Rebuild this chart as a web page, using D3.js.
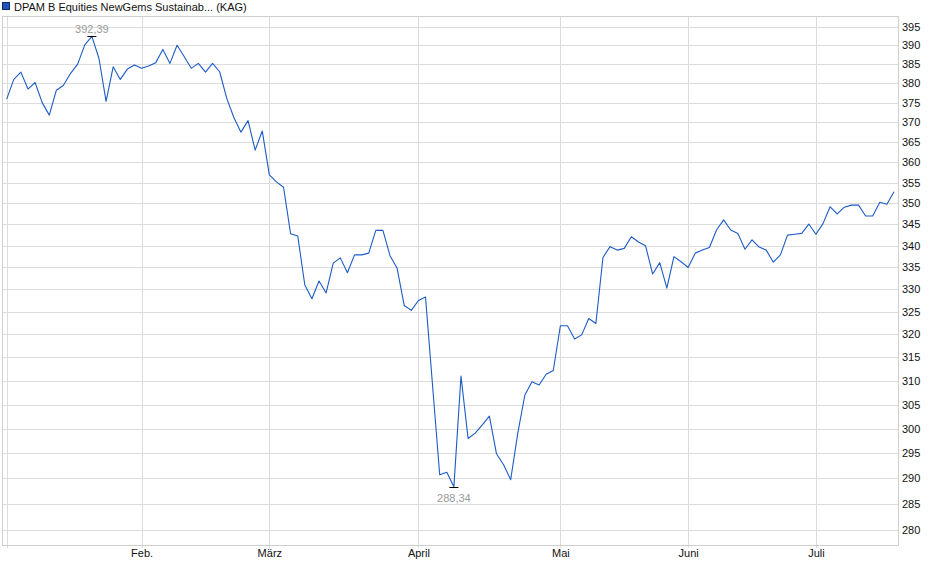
<!DOCTYPE html>
<html>
<head>
<meta charset="utf-8">
<script src="https://cdn.jsdelivr.net/npm/d3@7"></script>
<style>
  body { margin: 0; background: #fff; }
  svg { display: block; font-family: "Liberation Sans", Arial, sans-serif; }
</style>
</head>
<body>
<svg id="chart" width="940" height="579"></svg>
<script>
// Series name shown in the legend
const seriesName = "DPAM B Equities NewGems Sustainab... (KAG)";

// Daily prices, Jan - Jul
const prices = [
  375.9, 381.0, 382.9, 378.5, 380.2, 375.0, 371.8, 378.2, 379.5, 382.6,
  385.0, 390.1, 392.39, 386.5, 375.3, 384.3, 381.0, 383.7, 384.8, 383.9,
  384.5, 385.4, 388.9, 385.2, 390.0, 387.0, 383.9, 385.2, 382.9, 385.2,
  383.0, 376.1, 371.2, 367.5, 370.4, 363.0, 367.8, 356.9, 355.2, 353.9,
  342.8, 342.3, 331.0, 327.9, 331.9, 329.2, 336.0, 337.2, 333.8, 337.9,
  337.9, 338.3, 343.6, 343.6, 337.7, 334.8, 326.4, 325.3, 327.5, 328.3,
  308.9, 290.7, 291.2, 288.34, 311.0, 298.0, 299.1, 300.8, 302.6, 294.9,
  292.7, 289.7, 299.1, 307.0, 309.8, 309.1, 311.4, 312.2, 321.9, 321.9,
  319.0, 319.9, 323.5, 322.4, 337.3, 339.8, 339.0, 339.4, 342.1, 340.9,
  340.0, 333.5, 336.1, 330.3, 337.5, 336.3, 335.0, 338.3, 339.0, 339.6,
  343.7, 346.1, 343.7, 342.9, 339.2, 341.4, 339.7, 339.0, 336.2, 337.9,
  342.5, 342.7, 342.9, 345.1, 342.7, 345.2, 349.2, 347.5, 349.1, 349.6,
  349.6, 347.0, 347.0, 350.3, 349.8, 352.8
];

// Month boundaries: index of first price in each month
const monthStart  = [0, 19, 37, 58, 78, 96, 114];
const monthLabels = ["", "Feb.", "März", "April", "Mai", "Juni", "Juli"];

// Y axis ticks
const yTicks = d3.range(280, 396, 5);

const svg = d3.select("#chart");

const plot = { left: 2.5, right: 898.5, top: 16.5, bottom: 545.5 };

const x = d3.scaleLinear()
    .domain([0, prices.length - 1])
    .range([6.7, 894]);

const y = d3.scaleLog()
    .domain([276.96, 397.76])
    .range([plot.bottom, plot.top]);

// Horizontal grid
svg.append("g")
    .attr("transform", `translate(${plot.right},0)`)
    .call(d3.axisLeft(y).tickValues(yTicks).tickSize(plot.right - plot.left).tickFormat(""))
    .call(g => g.select(".domain").remove())
    .call(g => g.selectAll("line").attr("stroke", "#dcdcdc").attr("shape-rendering", "crispEdges"));

// Vertical month grid
svg.append("g")
    .attr("transform", `translate(0,${plot.bottom + 2})`)
    .call(d3.axisTop(x).tickValues(monthStart).tickSize(plot.bottom - plot.top + 2).tickFormat(""))
    .call(g => g.select(".domain").remove())
    .call(g => g.selectAll("line").attr("stroke", "#dcdcdc").attr("shape-rendering", "crispEdges"));

// Frame
svg.append("rect")
    .attr("x", plot.left)
    .attr("y", plot.top)
    .attr("width", plot.right - plot.left)
    .attr("height", plot.bottom - plot.top)
    .attr("fill", "none")
    .attr("stroke", "#cfcfcf")
    .attr("shape-rendering", "crispEdges");

// Y labels on the right
svg.append("g")
    .attr("transform", `translate(${plot.right},0)`)
    .call(d3.axisRight(y).tickValues(yTicks).tickSize(0).tickPadding(3.5).tickFormat(d3.format("d")))
    .call(g => g.select(".domain").remove())
    .call(g => g.selectAll("text")
        .attr("fill", "#111")
        .style("font-size", "11px")
        .style("font-family", "'Liberation Sans', Arial, sans-serif"));

// Month labels
svg.append("g")
    .attr("transform", `translate(0,${plot.bottom})`)
    .call(d3.axisBottom(x).tickValues(monthStart).tickSize(0).tickPadding(4)
        .tickFormat((d, i) => monthLabels[i]))
    .call(g => g.select(".domain").remove())
    .call(g => g.selectAll("text")
        .attr("fill", "#111")
        .style("font-size", "11px")
        .style("font-family", "'Liberation Sans', Arial, sans-serif"));

// Price line
const line = d3.line()
    .x((d, i) => x(i))
    .y(d => y(d));

svg.append("path")
    .datum(prices)
    .attr("fill", "none")
    .attr("stroke", "#1d5bc6")
    .attr("stroke-width", 1.1)
    .attr("stroke-linejoin", "round")
    .attr("d", line);

// Max / min markers
const fmt = v => d3.format(".2f")(v).replace(".", ",");
const iMax = d3.maxIndex(prices);
const iMin = d3.minIndex(prices);

const marks = [
    { i: iMax, v: prices[iMax], dy: -4 },
    { i: iMin, v: prices[iMin], dy: 14 }
];

marks.forEach(m => {
    const px = x(m.i), py = Math.round(y(m.v)) + 0.5;
    svg.append("line")
        .attr("x1", px - 4.5).attr("x2", px + 4.5)
        .attr("y1", py).attr("y2", py)
        .attr("stroke", "#000")
        .attr("stroke-width", 1);
    svg.append("text")
        .attr("x", px)
        .attr("y", py + m.dy)
        .attr("text-anchor", "middle")
        .attr("fill", "#9a9a9a")
        .style("font-size", "11px")
        .text(fmt(m.v));
});

// Legend
svg.append("rect")
    .attr("x", 2.5).attr("y", 2.5)
    .attr("width", 7).attr("height", 7)
    .attr("fill", "#1d56b8")
    .attr("stroke", "#0b2a6a");

svg.append("text")
    .attr("x", 14)
    .attr("y", 10.5)
    .attr("fill", "#111")
    .style("font-size", "11px")
    .text(seriesName);
</script>
</body>
</html>
